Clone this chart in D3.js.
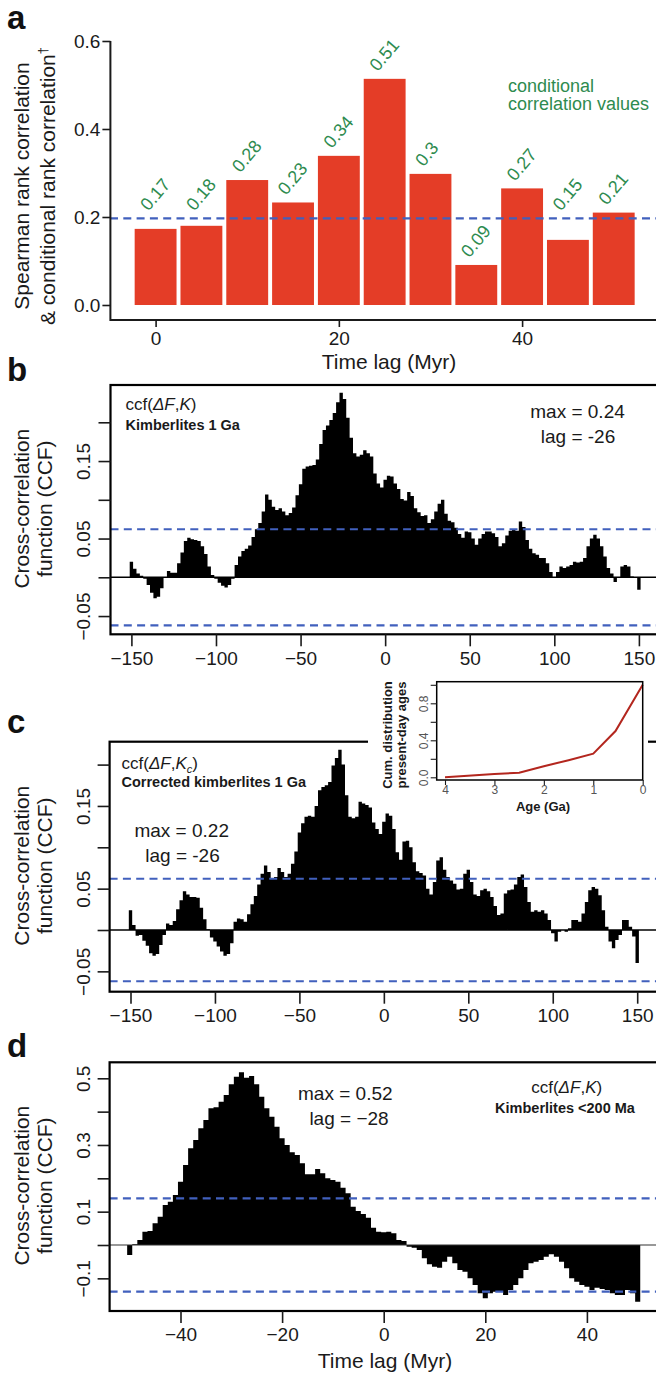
<!DOCTYPE html>
<html>
<head>
<meta charset="utf-8">
<script src="https://cdn.jsdelivr.net/npm/d3@7"></script>
<style>
  body { margin: 0; background: #fff; }
  svg text { font-family: "Liberation Sans", Arial, Helvetica, sans-serif; }
</style>
</head>
<body>
<div id="chart"></div>
<script>
// ---- panel a: rank correlation per time lag ----
var lagA = [0, 5, 10, 15, 20, 25, 30, 35, 40, 45, 50];
var spearmanA = [0.173, 0.180, 0.284, 0.233, 0.339, 0.514, 0.298, 0.091, 0.265, 0.148, 0.210];
var condLabelA = ["0.17", "0.18", "0.28", "0.23", "0.34", "0.51", "0.3", "0.09", "0.27", "0.15", "0.21"];
var thresholdA = 0.197;
var yTicksA = [0, 0.2, 0.4, 0.6];
var xTicksA = [0, 20, 40];

// ---- panel b: ccf(dF, K), kimberlites 1 Ga ----
var lagBC = d3.range(-150, 151, 2);
var ccfB = [
  0.020, 0.011, 0.005, 0.002, -0.002, -0.010, -0.020, -0.027, -0.025, -0.014,
  0.000, 0.008, 0.006, 0.006, 0.018, 0.032, 0.047, 0.051, 0.049, 0.048,
  0.047, 0.040, 0.030, 0.014, 0.003, -0.002, -0.007, -0.011, -0.013, -0.010,
  -0.002, 0.016, 0.027, 0.034, 0.037, 0.041, 0.052, 0.062, 0.070, 0.085,
  0.107, 0.100, 0.091, 0.087, 0.089, 0.085, 0.080, 0.083, 0.090, 0.106,
  0.120, 0.140, 0.143, 0.144, 0.145, 0.152, 0.172, 0.190, 0.196, 0.203,
  0.212, 0.226, 0.238, 0.230, 0.206, 0.180, 0.160, 0.156, 0.158, 0.164,
  0.160, 0.156, 0.134, 0.121, 0.116, 0.126, 0.131, 0.130, 0.121, 0.114,
  0.101, 0.099, 0.110, 0.105, 0.089, 0.084, 0.079, 0.080, 0.070, 0.075,
  0.085, 0.095, 0.100, 0.082, 0.073, 0.071, 0.064, 0.056, 0.051, 0.059,
  0.058, 0.050, 0.042, 0.050, 0.056, 0.059, 0.059, 0.057, 0.052, 0.040,
  0.044, 0.054, 0.060, 0.061, 0.060, 0.072, 0.065, 0.048, 0.037, 0.031,
  0.029, 0.025, 0.025, 0.018, 0.007, -0.001, 0.007, 0.014, 0.012, 0.014,
  0.016, 0.020, 0.019, 0.020, 0.025, 0.040, 0.050, 0.055, 0.050, 0.040,
  0.027, 0.012, 0.005, -0.006, -0.001, 0.014, 0.016, 0.014, 0.001, -0.001,
  -0.016
];
var sigB = 0.062;

// ---- panel c: ccf(dF, Kc), corrected kimberlites 1 Ga ----
var ccfC = [
  0.024, 0.006, -0.007, -0.006, -0.013, -0.019, -0.028, -0.031, -0.029, -0.018,
  -0.006, 0.008, 0.006, 0.011, 0.025, 0.036, 0.047, 0.043, 0.040, 0.040,
  0.039, 0.027, 0.013, 0.001, -0.009, -0.014, -0.020, -0.026, -0.031, -0.029,
  -0.016, 0.010, 0.014, 0.013, 0.010, 0.019, 0.031, 0.041, 0.055, 0.068,
  0.078, 0.070, 0.062, 0.064, 0.075, 0.070, 0.064, 0.068, 0.080, 0.095,
  0.118, 0.129, 0.137, 0.138, 0.137, 0.150, 0.169, 0.173, 0.175, 0.179,
  0.199, 0.208, 0.218, 0.200, 0.163, 0.137, 0.135, 0.137, 0.155, 0.153,
  0.151, 0.148, 0.130, 0.122, 0.116, 0.131, 0.141, 0.138, 0.122, 0.094,
  0.085, 0.107, 0.108, 0.100, 0.082, 0.071, 0.069, 0.066, 0.050, 0.043,
  0.058, 0.084, 0.088, 0.073, 0.064, 0.060, 0.056, 0.049, 0.050, 0.068,
  0.073, 0.058, 0.043, 0.041, 0.048, 0.050, 0.047, 0.040, 0.029, 0.018,
  0.020, 0.044, 0.048, 0.049, 0.055, 0.064, 0.067, 0.052, 0.034, 0.022,
  0.024, 0.022, 0.024, 0.020, 0.012, -0.004, -0.014, -0.002, 0.000, -0.002,
  0.002, 0.012, 0.012, 0.010, 0.020, 0.034, 0.048, 0.052, 0.050, 0.042,
  0.024, 0.004, -0.014, -0.022, -0.012, -0.006, 0.012, 0.012, 0.004, -0.008,
  -0.040
];
var sigC = 0.062;
var yTicksBC = [-0.05, 0, 0.05, 0.1, 0.15, 0.2];
var yLabelsBC = [-0.05, 0.05, 0.15];
var xTicksBC = [-150, -100, -50, 0, 50, 100, 150];

// inset of panel c: cumulative distribution of present-day ages
var insetAge = [4, 3, 2.5, 2, 1.5, 1, 0.55, 0];
var insetCum = [0.0, 0.035, 0.05, 0.12, 0.185, 0.255, 0.5, 1.0];
var insetYTicks = [0, 0.2, 0.4, 0.6, 0.8, 1];
var insetYLabels = [0, 0.4, 0.8];
var insetXTicks = [4, 3, 2, 1, 0];

// ---- panel d: ccf(dF, K), kimberlites < 200 Ma ----
var lagD = d3.range(-50, 51, 1);
var ccfD = [
  -0.030, 0.002, 0.015, 0.040, 0.042, 0.065, 0.085, 0.120, 0.130, 0.150,
  0.190, 0.240, 0.290, 0.315, 0.350, 0.375, 0.410, 0.413, 0.430, 0.450,
  0.482, 0.505, 0.518, 0.502, 0.507, 0.482, 0.445, 0.410, 0.385, 0.355,
  0.320, 0.300, 0.278, 0.270, 0.245, 0.212, 0.212, 0.228, 0.215, 0.200,
  0.195, 0.190, 0.172, 0.155, 0.115, 0.102, 0.093, 0.082, 0.052, 0.040,
  0.038, 0.040, 0.035, 0.015, 0.012, -0.005, -0.008, -0.015, -0.040, -0.058,
  -0.065, -0.068, -0.050, -0.035, -0.055, -0.075, -0.080, -0.100, -0.120, -0.145,
  -0.160, -0.145, -0.140, -0.140, -0.150, -0.135, -0.120, -0.100, -0.075, -0.055,
  -0.050, -0.045, -0.035, -0.028, -0.035, -0.050, -0.070, -0.100, -0.110, -0.120,
  -0.125, -0.135, -0.128, -0.132, -0.135, -0.145, -0.150, -0.150, -0.135, -0.145,
  -0.170
];
var sigD = 0.14;
var yTicksD = [-0.1, 0, 0.1, 0.2, 0.3, 0.4, 0.5];
var yLabelsD = [-0.1, 0.1, 0.3, 0.5];
var xTicksD = [-40, -20, 0, 20, 40];

// colours
var red = "#e43d27";
var green = "#2e8b4f";
var blue = "#4160bd";
var ink = "#1a1a1a";

var svgWidth = 656;
var svgHeight = 1378;

var svg = d3.select("#chart")
  .append("svg")
  .attr("width", svgWidth)
  .attr("height", svgHeight);

function panelLetter(t, y) {
  svg.append("text")
    .attr("x", 7)
    .attr("y", y)
    .attr("font-size", 33)
    .attr("font-weight", "bold")
    .attr("fill", "#111")
    .text(t);
}

// rotated y-axis title, one text per line; returns the texts
function yTitle(lines, xs, cy, size) {
  return lines.map(function(l, i) {
    return svg.append("text")
      .attr("transform", `translate(${xs[i]}, ${cy}) rotate(-90)`)
      .attr("text-anchor", "middle")
      .attr("font-size", size)
      .attr("fill", ink)
      .text(l);
  });
}

function styleAxis(g, size) {
  g.attr("font-family", null).attr("font-size", size);
  g.selectAll("line").attr("stroke", ink).attr("stroke-width", 1.6);
  g.selectAll("text").attr("fill", ink);
  g.select(".domain").remove();
}

// ==============================
// panel a
// ==============================
var xA = d3.scaleLinear().domain([0, 40]).range([155.6, 522.1]);
var yA = d3.scaleLinear().domain([0, 0.6]).range([305, 41]);
var barW = 4.57;

panelLetter("a", 29);

svg.append("g").selectAll("rect")
  .data(lagA)
  .enter()
  .append("rect")
  .attr("x", d => xA(d - barW / 2))
  .attr("width", xA(barW) - xA(0))
  .attr("y", (d, i) => yA(spearmanA[i]))
  .attr("height", (d, i) => yA(0) - yA(spearmanA[i]))
  .attr("fill", red);

svg.append("line")
  .attr("x1", 110).attr("x2", svgWidth)
  .attr("y1", yA(thresholdA)).attr("y2", yA(thresholdA))
  .attr("stroke", blue)
  .attr("stroke-width", 2.2)
  .attr("stroke-dasharray", "8,5.3");

// rotated conditional values above the bars
svg.append("g").selectAll("text")
  .data(lagA)
  .enter()
  .append("text")
  .attr("transform", function(d, i) {
    var v = spearmanA[i];
    var base = (v < thresholdA && v > 0.1) ? yA(thresholdA) : yA(v);
    return `translate(${xA(d) - 7}, ${base - 6.5}) rotate(-50)`;
  })
  .attr("font-size", 18)
  .attr("fill", green)
  .text((d, i) => condLabelA[i]);

svg.append("text")
  .attr("x", 508)
  .attr("y", 91.7)
  .attr("font-size", 18)
  .attr("fill", green)
  .text("conditional");
svg.append("text")
  .attr("x", 508)
  .attr("y", 110)
  .attr("font-size", 18)
  .attr("fill", green)
  .text("correlation values");

// L-shaped axes
svg.append("path")
  .attr("d", `M110.4,${yA(0.6)}V320H${svgWidth}`)
  .attr("fill", "none")
  .attr("stroke", ink)
  .attr("stroke-width", 2);

var yAxisA = svg.append("g")
  .attr("transform", "translate(110.4,0)")
  .call(d3.axisLeft(yA).tickValues(yTicksA).tickFormat(d3.format(".1f")).tickSize(8).tickPadding(2));
styleAxis(yAxisA, 19);

var xAxisA = svg.append("g")
  .attr("transform", "translate(0,320)")
  .call(d3.axisBottom(xA).tickValues(xTicksA).tickSize(7).tickPadding(5));
styleAxis(xAxisA, 19);

var titleA = yTitle(["Spearman rank correlation", "& conditional rank correlation"], [29, 55], 186, 21);
// dagger on the second line
titleA[1].append("tspan")
  .attr("font-size", 13)
  .attr("dy", -8)
  .text("\u2020");

svg.append("text")
  .attr("x", 389)
  .attr("y", 369)
  .attr("text-anchor", "middle")
  .attr("font-size", 21)
  .attr("fill", ink)
  .text("Time lag (Myr)");

// ==============================
// cross-correlation panels
// ==============================
function drawCcf(cfg) {
  var x = cfg.x, y = cfg.y;
  var right = 700;
  var g = svg.append("g");

  // all bars in one path so neighbours join without seams
  var bars = d3.path();
  cfg.lags.forEach(function(d, i) {
    var y0 = y(0), y1 = y(cfg.values[i]);
    bars.rect(x(d - cfg.step / 2), Math.min(y0, y1), x(cfg.step) - x(0), Math.abs(y1 - y0));
  });
  g.append("path")
    .attr("d", bars.toString())
    .attr("fill", "#000");

  // zero line
  g.append("line")
    .attr("x1", cfg.left).attr("x2", right)
    .attr("y1", y(0)).attr("y2", y(0))
    .attr("stroke", cfg.zeroColor || "#000")
    .attr("stroke-width", cfg.zeroWidth || 1.6);

  // significance bands
  [cfg.sig, -cfg.sig].forEach(function(s) {
    g.append("line")
      .attr("x1", cfg.left).attr("x2", right)
      .attr("y1", y(s)).attr("y2", y(s))
      .attr("stroke", blue)
      .attr("stroke-width", 2.2)
      .attr("stroke-dasharray", "8,5.3");
  });

  // box
  g.append("rect")
    .attr("x", cfg.left)
    .attr("y", cfg.top)
    .attr("width", right - cfg.left)
    .attr("height", cfg.bottom - cfg.top)
    .attr("fill", "none")
    .attr("stroke", "#000")
    .attr("stroke-width", 2.2);

  var yAxis = g.append("g")
    .attr("transform", `translate(${cfg.left},0)`)
    .call(d3.axisLeft(y).tickValues(cfg.yTicks).tickSize(12)
      .tickFormat(d => cfg.yLabels.indexOf(d) >= 0 ? d3.format(cfg.yFormat)(d) : ""));
  styleAxis(yAxis, 19);
  yAxis.selectAll("text")
    .attr("x", 0).attr("y", 0).attr("dy", 0)
    .attr("text-anchor", "middle")
    .attr("transform", `translate(${90 - cfg.left},0) rotate(-90)`);

  var xAxis = g.append("g")
    .attr("transform", `translate(0,${cfg.bottom})`)
    .call(d3.axisBottom(x).tickValues(cfg.xTicks).tickSize(12).tickPadding(5));
  styleAxis(xAxis, 19);

  yTitle(["Cross-correlation", "function (CCF)"], [29, 52], (cfg.top + cfg.bottom) / 2 - 1, 21);
  return g;
}

function ccfLabel(g, x, y, anchor, sub) {
  var t = g.append("text")
    .attr("x", x).attr("y", y)
    .attr("text-anchor", anchor)
    .attr("font-size", 17)
    .attr("fill", ink);
  t.append("tspan").text("ccf(");
  t.append("tspan").attr("font-style", "italic").text("\u0394F");
  t.append("tspan").text(",");
  t.append("tspan").attr("font-style", "italic").text("K");
  if (sub) {
    t.append("tspan").attr("font-style", "italic").attr("font-size", 11).attr("dy", 4).text(sub);
    t.append("tspan").attr("dy", -4).text(")");
  } else {
    t.append("tspan").text(")");
  }
}

function note(g, x, y, anchor, size, weight, txt) {
  g.append("text")
    .attr("x", x).attr("y", y)
    .attr("text-anchor", anchor)
    .attr("font-size", size)
    .attr("font-weight", weight)
    .attr("fill", ink)
    .text(txt);
}

// panel b
panelLetter("b", 381);
var xB = d3.scaleLinear().domain([-150, 150]).range([131.4, 638.9]);
var yB = d3.scaleLinear().domain([0, 0.2]).range([577.3, 422.3]);
var gB = drawCcf({
  x: xB, y: yB, lags: lagBC, values: ccfB, step: 2, sig: sigB,
  left: 110.5, top: 385, bottom: 634.3,
  yTicks: yTicksBC, yLabels: yLabelsBC, yFormat: ".2f", xTicks: xTicksBC
});
ccfLabel(gB, 125.5, 410, "start");
note(gB, 125.5, 430, "start", 14.5, "bold", "Kimberlites 1 Ga");
note(gB, 577.5, 418, "middle", 19, "normal", "max = 0.24");
note(gB, 578, 443, "middle", 19, "normal", "lag = -26");

// panel c
panelLetter("c", 733);
var xC = d3.scaleLinear().domain([-150, 150]).range([130.5, 637.2]);
var yC = d3.scaleLinear().domain([0, 0.2]).range([930, 764.6]);
var gC = drawCcf({
  x: xC, y: yC, lags: lagBC, values: ccfC, step: 2, sig: sigC,
  left: 109.6, top: 741.7, bottom: 991.7,
  yTicks: yTicksBC, yLabels: yLabelsBC, yFormat: ".2f", xTicks: xTicksBC
});
ccfLabel(gC, 121.5, 769, "start", "c");
note(gC, 121.5, 787, "start", 14.5, "bold", "Corrected kimberlites 1 Ga");
note(gC, 181.7, 836.7, "middle", 19, "normal", "max = 0.22");
note(gC, 182.5, 861.7, "middle", 19, "normal", "lag = -26");

// inset of panel c
var xIn = d3.scaleLinear().domain([4, 0]).range([445, 642.7]);
var yIn = d3.scaleLinear().domain([0, 1]).range([777.3, 684.8]);
var gIn = svg.append("g");
gIn.append("rect")
  .attr("x", 368).attr("y", 668)
  .attr("width", 280).attr("height", 78)
  .attr("fill", "#fff");
gIn.append("path")
  .datum(insetAge)
  .attr("d", d3.line().x(d => xIn(d)).y((d, i) => yIn(insetCum[i])))
  .attr("fill", "none")
  .attr("stroke", "#b3261e")
  .attr("stroke-width", 2);
gIn.append("rect")
  .attr("x", 436.7).attr("y", 681.7)
  .attr("width", 642.7 - 436.7).attr("height", 780 - 681.7)
  .attr("fill", "none")
  .attr("stroke", "#000")
  .attr("stroke-width", 1.5);
var yAxisIn = gIn.append("g")
  .attr("transform", "translate(436.7,0)")
  .call(d3.axisLeft(yIn).tickValues(insetYTicks).tickSize(6)
    .tickFormat(d => insetYLabels.indexOf(d) >= 0 ? d3.format(".1f")(d) : ""));
styleAxis(yAxisIn, 12);
yAxisIn.selectAll("line").attr("stroke-width", 1.1);
yAxisIn.selectAll("text")
  .attr("fill", "#555")
  .attr("x", 0).attr("y", 0).attr("dy", 0)
  .attr("text-anchor", "middle")
  .attr("transform", "translate(-8.7,0) rotate(-90)");
var xAxisIn = gIn.append("g")
  .attr("transform", "translate(0,780)")
  .call(d3.axisBottom(xIn).tickValues(insetXTicks).tickFormat(d3.format("d")).tickSize(5).tickPadding(0));
styleAxis(xAxisIn, 12);
xAxisIn.selectAll("line").attr("stroke-width", 1.1);
xAxisIn.selectAll("text").attr("fill", "#555");
note(gIn, 543, 811, "middle", 13, "bold", "Age (Ga)");
gIn.append("text")
  .attr("transform", "translate(392,735) rotate(-90)")
  .attr("text-anchor", "middle")
  .attr("font-size", 13).attr("font-weight", "bold").attr("fill", ink)
  .text("Cum. distribution");
gIn.append("text")
  .attr("transform", "translate(405.5,735) rotate(-90)")
  .attr("text-anchor", "middle")
  .attr("font-size", 13).attr("font-weight", "bold").attr("fill", ink)
  .text("present-day ages");

// panel d
panelLetter("d", 1057);
var xD = d3.scaleLinear().domain([-40, 40]).range([180.5, 586.9]);
var yD = d3.scaleLinear().domain([0, 0.5]).range([1245, 1078.3]);
var gD = drawCcf({
  x: xD, y: yD, lags: lagD, values: ccfD, step: 1, sig: sigD,
  left: 109.6, top: 1062.3, bottom: 1311,
  yTicks: yTicksD, yLabels: yLabelsD, yFormat: ".1f", xTicks: xTicksD,
  zeroColor: "#333", zeroWidth: 1.2
});
ccfLabel(gD, 566.7, 1093.3, "middle");
note(gD, 565, 1113, "middle", 14.5, "bold", "Kimberlites <200 Ma");
note(gD, 345.3, 1100, "middle", 19, "normal", "max = 0.52");
note(gD, 349, 1125, "middle", 19, "normal", "lag = \u221228");

svg.append("text")
  .attr("x", 385)
  .attr("y", 1368)
  .attr("text-anchor", "middle")
  .attr("font-size", 21)
  .attr("fill", ink)
  .text("Time lag (Myr)");
</script>
</body>
</html>
